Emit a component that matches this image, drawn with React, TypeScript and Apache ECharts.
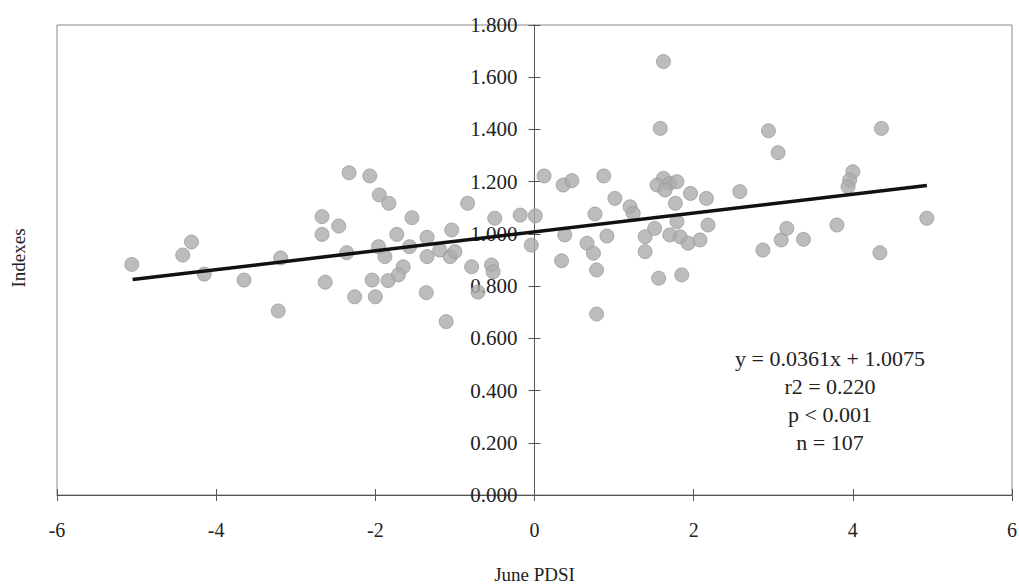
import React, { useEffect, useRef } from "react";
import * as echarts from "echarts";

const xTicks = [-6, -4, -2, 0, 2, 4, 6];
const yTickLabels = ["0.000", "0.200", "0.400", "0.600", "0.800", "1.000", "1.200", "1.400", "1.600", "1.800"];

const pdsi = [
  -5.06, -4.42, -4.31, -4.15, -3.65, -3.22, -3.19, -2.67, -2.46, -2.67, -2.63, -2.33, -2.26, -2.36,
  -2.07, -1.95, -1.83, -1.54, -1.73, -1.57, -1.35, -1.04, -0.84, -1.88, -1.96, -1.65, -1.71, -1.84,
  -2.04, -2.0, -1.36, -1.35, -1.06, -1.19, -1.0, -1.11, -0.79, -0.54, -0.52, -0.5, -0.18, -0.04,
  0.01, -0.71, 0.12, 0.36, 0.47, 0.87, 0.38, 0.34, 0.76, 0.91, 1.01, 1.2, 1.24, 0.66, 0.74, 0.78,
  0.78, 1.39, 1.51, 1.39, 1.56, 1.85, 1.62, 1.54, 1.7, 1.79, 1.64, 1.77, 1.96, 2.16, 1.79, 1.7,
  1.83, 1.93, 2.08, 2.18, 1.62, 1.58, 2.94, 3.06, 2.58, 2.87, 3.1, 3.17, 3.38, 3.8, 4.0, 3.96,
  3.94, 4.93, 4.34, 4.36,
];

const indexes = [
  0.883, 0.919, 0.969, 0.846, 0.823, 0.705, 0.908, 1.066, 1.03, 0.998, 0.815, 1.234, 0.759, 0.928,
  1.222, 1.149, 1.117, 1.062, 0.998, 0.951, 0.987, 1.015, 1.117, 0.913, 0.951, 0.874, 0.843, 0.821,
  0.823, 0.759, 0.775, 0.913, 0.913, 0.938, 0.932, 0.664, 0.874, 0.881, 0.855, 1.06, 1.072, 0.957,
  1.069, 0.777, 1.222, 1.187, 1.204, 1.222, 0.996, 0.897, 1.076, 0.992, 1.136, 1.104, 1.079, 0.964,
  0.926, 0.862, 0.693, 0.989, 1.021, 0.932, 0.83, 0.843, 1.213, 1.187, 1.194, 1.2, 1.168, 1.117,
  1.155, 1.136, 1.047, 0.996, 0.989, 0.964, 0.977, 1.034, 1.66, 1.404, 1.395, 1.311, 1.162, 0.938,
  0.977, 1.021, 0.979, 1.034, 1.238, 1.206, 1.181, 1.06, 0.928, 1.404,
];

const slope = 0.0361;
const intercept = 1.0075;
const trendX = [-5.05, 4.93];
const statLines = ["y = 0.0361x + 1.0075", "r2 = 0.220", "p < 0.001", "n = 107"];

const FONT = "Liberation Serif";
const GRID_LEFT = 57;
const GRID_RIGHT = 7;
const CHART_W = 1019;

export default function App() {
  const ref = useRef<HTMLDivElement>(null);
  useEffect(() => {
    if (!ref.current) return;
    const chart = echarts.init(ref.current, undefined, { renderer: "svg" });
    const points = pdsi.map((x, i) => [x, indexes[i]]);
    const trend = trendX.map((x) => [x, slope * x + intercept]);
    const axisLineStyle = { color: "#555", width: 1 };
    const plotW = CHART_W - GRID_LEFT - GRID_RIGHT;
    const yOffset = -plotW / 2; // y axis sits at x = 0 (middle of -6..6)
    chart.setOption({
      animation: false,
      backgroundColor: "#fff",
      textStyle: { fontFamily: FONT },
      grid: {
        left: GRID_LEFT,
        right: GRID_RIGHT,
        top: 25,
        bottom: 90,
        containLabel: false,
        outerBoundsMode: "none",
        show: true,
        borderColor: "#8a8a8a",
        borderWidth: 1,
        backgroundColor: "transparent",
      },
      xAxis: [
        {
          type: "value",
          min: -6,
          max: 6,
          interval: 2,
          axisLine: { show: true, onZero: false, lineStyle: axisLineStyle },
          axisTick: { show: true, inside: false, length: 6, lineStyle: axisLineStyle },
          axisLabel: {
            show: true,
            margin: 25,
            fontSize: 20,
            fontFamily: FONT,
            color: "#222",
            formatter: (v: number) => (xTicks.includes(v) ? String(v) : ""),
          },
          splitLine: { show: false },
          name: "June PDSI",
          nameLocation: "middle",
          nameGap: 70,
          nameTextStyle: { fontSize: 19, fontFamily: FONT, color: "#222" },
        },
        {
          type: "value",
          min: -6,
          max: 6,
          interval: 2,
          position: "bottom",
          axisLine: { show: false, onZero: false },
          axisTick: { show: true, inside: true, length: 6, lineStyle: axisLineStyle },
          axisLabel: { show: false },
          splitLine: { show: false },
        },
      ],
      yAxis: [
        {
          type: "value",
          min: 0,
          max: 1.8,
          interval: 0.2,
          position: "left",
          offset: yOffset,
          axisLine: { show: true, onZero: false, lineStyle: axisLineStyle },
          axisTick: { show: true, inside: false, length: 6, lineStyle: axisLineStyle },
          axisLabel: {
            margin: 17,
            fontSize: 21,
            fontFamily: FONT,
            color: "#222",
            formatter: (v: number) => yTickLabels[Math.round(v / 0.2)] ?? v.toFixed(3),
          },
          splitLine: { show: false },
        },
        {
          type: "value",
          min: 0,
          max: 1.8,
          interval: 0.2,
          position: "left",
          offset: yOffset,
          axisLine: { show: false, onZero: false },
          axisTick: { show: true, inside: true, length: 6, lineStyle: axisLineStyle },
          axisLabel: { show: false },
          splitLine: { show: false },
        },
      ],
      series: [
        {
          type: "scatter",
          data: points,
          symbol: "circle",
          symbolSize: 14,
          itemStyle: { color: "#ababab", borderColor: "#9c9c9c", borderWidth: 1 },
          z: 2,
        },
        {
          type: "line",
          data: trend,
          symbol: "none",
          lineStyle: { color: "#111", width: 3.5 },
          z: 3,
        },
      ],
      graphic: [
        {
          type: "text",
          x: 18,
          y: 258,
          rotation: Math.PI / 2,
          style: {
            text: "Indexes",
            fontSize: 19,
            fontFamily: FONT,
            fill: "#222",
            textAlign: "center",
            textVerticalAlign: "middle",
          },
        },
        {
          type: "text",
          x: 830,
          y: 344,
          style: {
            text: statLines.join("\n"),
            fontSize: 22,
            lineHeight: 28,
            fontFamily: FONT,
            fill: "#222",
            textAlign: "center",
            textVerticalAlign: "top",
          },
        },
      ],
    });
    return () => chart.dispose();
  }, []);
  return <div ref={ref} style={{ position: "absolute", left: 0, top: 0, width: CHART_W, height: 585 }} />;
}
